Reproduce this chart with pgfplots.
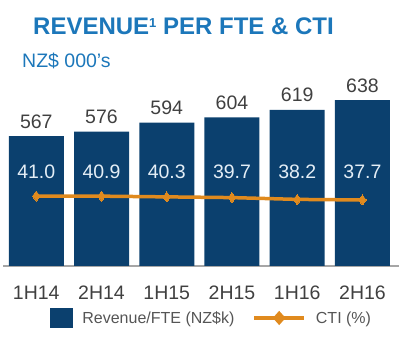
\documentclass[border=0pt]{standalone}
\usepackage{pgfplots}
\pgfplotsset{compat=1.18}
\usepackage{fontspec}
\setmainfont{Liberation Sans}
\definecolor{barblue}{HTML}{0B406E}
\definecolor{ctiorange}{HTML}{E08A1E}
\definecolor{titleblue}{HTML}{1C77BA}
\definecolor{txtgray}{HTML}{404040}
\definecolor{leggray}{HTML}{555555}
\definecolor{axgray}{HTML}{A6A6A6}
\definecolor{inlabel}{HTML}{E4EEF6}
\begin{document}
\begin{tikzpicture}
\node[anchor=base west, inner sep=0pt, font=\bfseries\fontsize{24}{24}\selectfont, text=titleblue] at (33pt,307pt) {REVENUE\raisebox{7.5pt}{\fontsize{13}{13}\selectfont 1} PER FTE \& CTI};
\node[anchor=base west, inner sep=0pt, font=\fontsize{19.5}{20}\selectfont, text=titleblue] at (22pt,274pt) {NZ\$ 000's};
\begin{axis}[
  at={(3pt,76pt)}, anchor=south west,
  scale only axis, width=396pt, height=171pt,
  xmin=-0.51, xmax=5.56, ymin=311, ymax=648.3,
  clip=false,
  axis x line=bottom, axis y line=none,
  axis line style={-, draw=axgray, line width=1.2pt},
  xtick={0,1,2,3,4,5},
  xticklabels={1H14,2H14,1H15,2H15,1H16,2H16},
  major tick length=0pt,
  xticklabel style={font=\fontsize{19.5}{20}\selectfont, text=txtgray, anchor=base, inner sep=0pt, yshift=-34pt},
]
\addplot[ybar, bar width=55pt, fill=barblue, draw=none,
  nodes near coords, point meta=explicit symbolic,
  nodes near coords style={font=\fontsize{19.5}{20}\selectfont, text=txtgray, anchor=base, inner sep=0pt, yshift=8pt}]
  coordinates {(0,567)[567] (1,576)[576] (2,594)[594] (3,604)[604] (4,619)[619] (5,638)[638]};
\addplot[draw=none, mark=none, forget plot,
  nodes near coords, point meta=explicit symbolic,
  nodes near coords style={font=\fontsize{19.5}{20}\selectfont, text=inlabel, anchor=base, inner sep=0pt}]
  coordinates {(0,482.6)[41.0] (1,482.6)[40.9] (2,482.6)[40.3] (3,482.6)[39.7] (4,482.6)[38.2] (5,482.6)[37.7]};
\end{axis}
\begin{axis}[
  at={(3pt,76pt)}, anchor=south west,
  scale only axis, width=396pt, height=171pt,
  xmin=-0.51, xmax=5.56, ymin=-17.3, ymax=125.2,
  hide axis, clip=false,
  legend columns=2,
  legend cell align=left,
  legend style={at={(axis description cs:0.1187,-0.304)}, anchor=west, draw=none, fill=none,
    inner sep=0pt, outer sep=0pt, nodes={inner sep=0pt},
    font=\fontsize{16}{16}\selectfont, text=leggray,
    /tikz/every odd column/.append style={column sep=10pt},
    /tikz/every even column/.append style={column sep=18pt}},
]
\addlegendimage{legend image code/.code={\fill[barblue] (0pt,-9.5pt) rectangle (22pt,9.5pt);}}
\addlegendentry{Revenue/FTE (NZ\$k)}
\addplot[ctiorange, line width=3.5pt, mark=diamond*, mark size=5pt,
  mark options={fill=ctiorange, draw=ctiorange, line width=0pt},
  legend image code/.code={\draw[ctiorange, line width=3.5pt] (0pt,0pt) -- (50pt,0pt);
    \fill[ctiorange] (25pt,4.5pt) -- (29pt,0pt) -- (25pt,-4.5pt) -- (21pt,0pt) -- cycle;}]
  coordinates {(0,41.0) (1,40.9) (2,40.3) (3,39.7) (4,38.2) (5,37.7)};
\addlegendentry{CTI (\%)}
\end{axis}
\pgfresetboundingbox
\path (0,0) rectangle (400pt,342pt);
\end{tikzpicture}
\end{document}
